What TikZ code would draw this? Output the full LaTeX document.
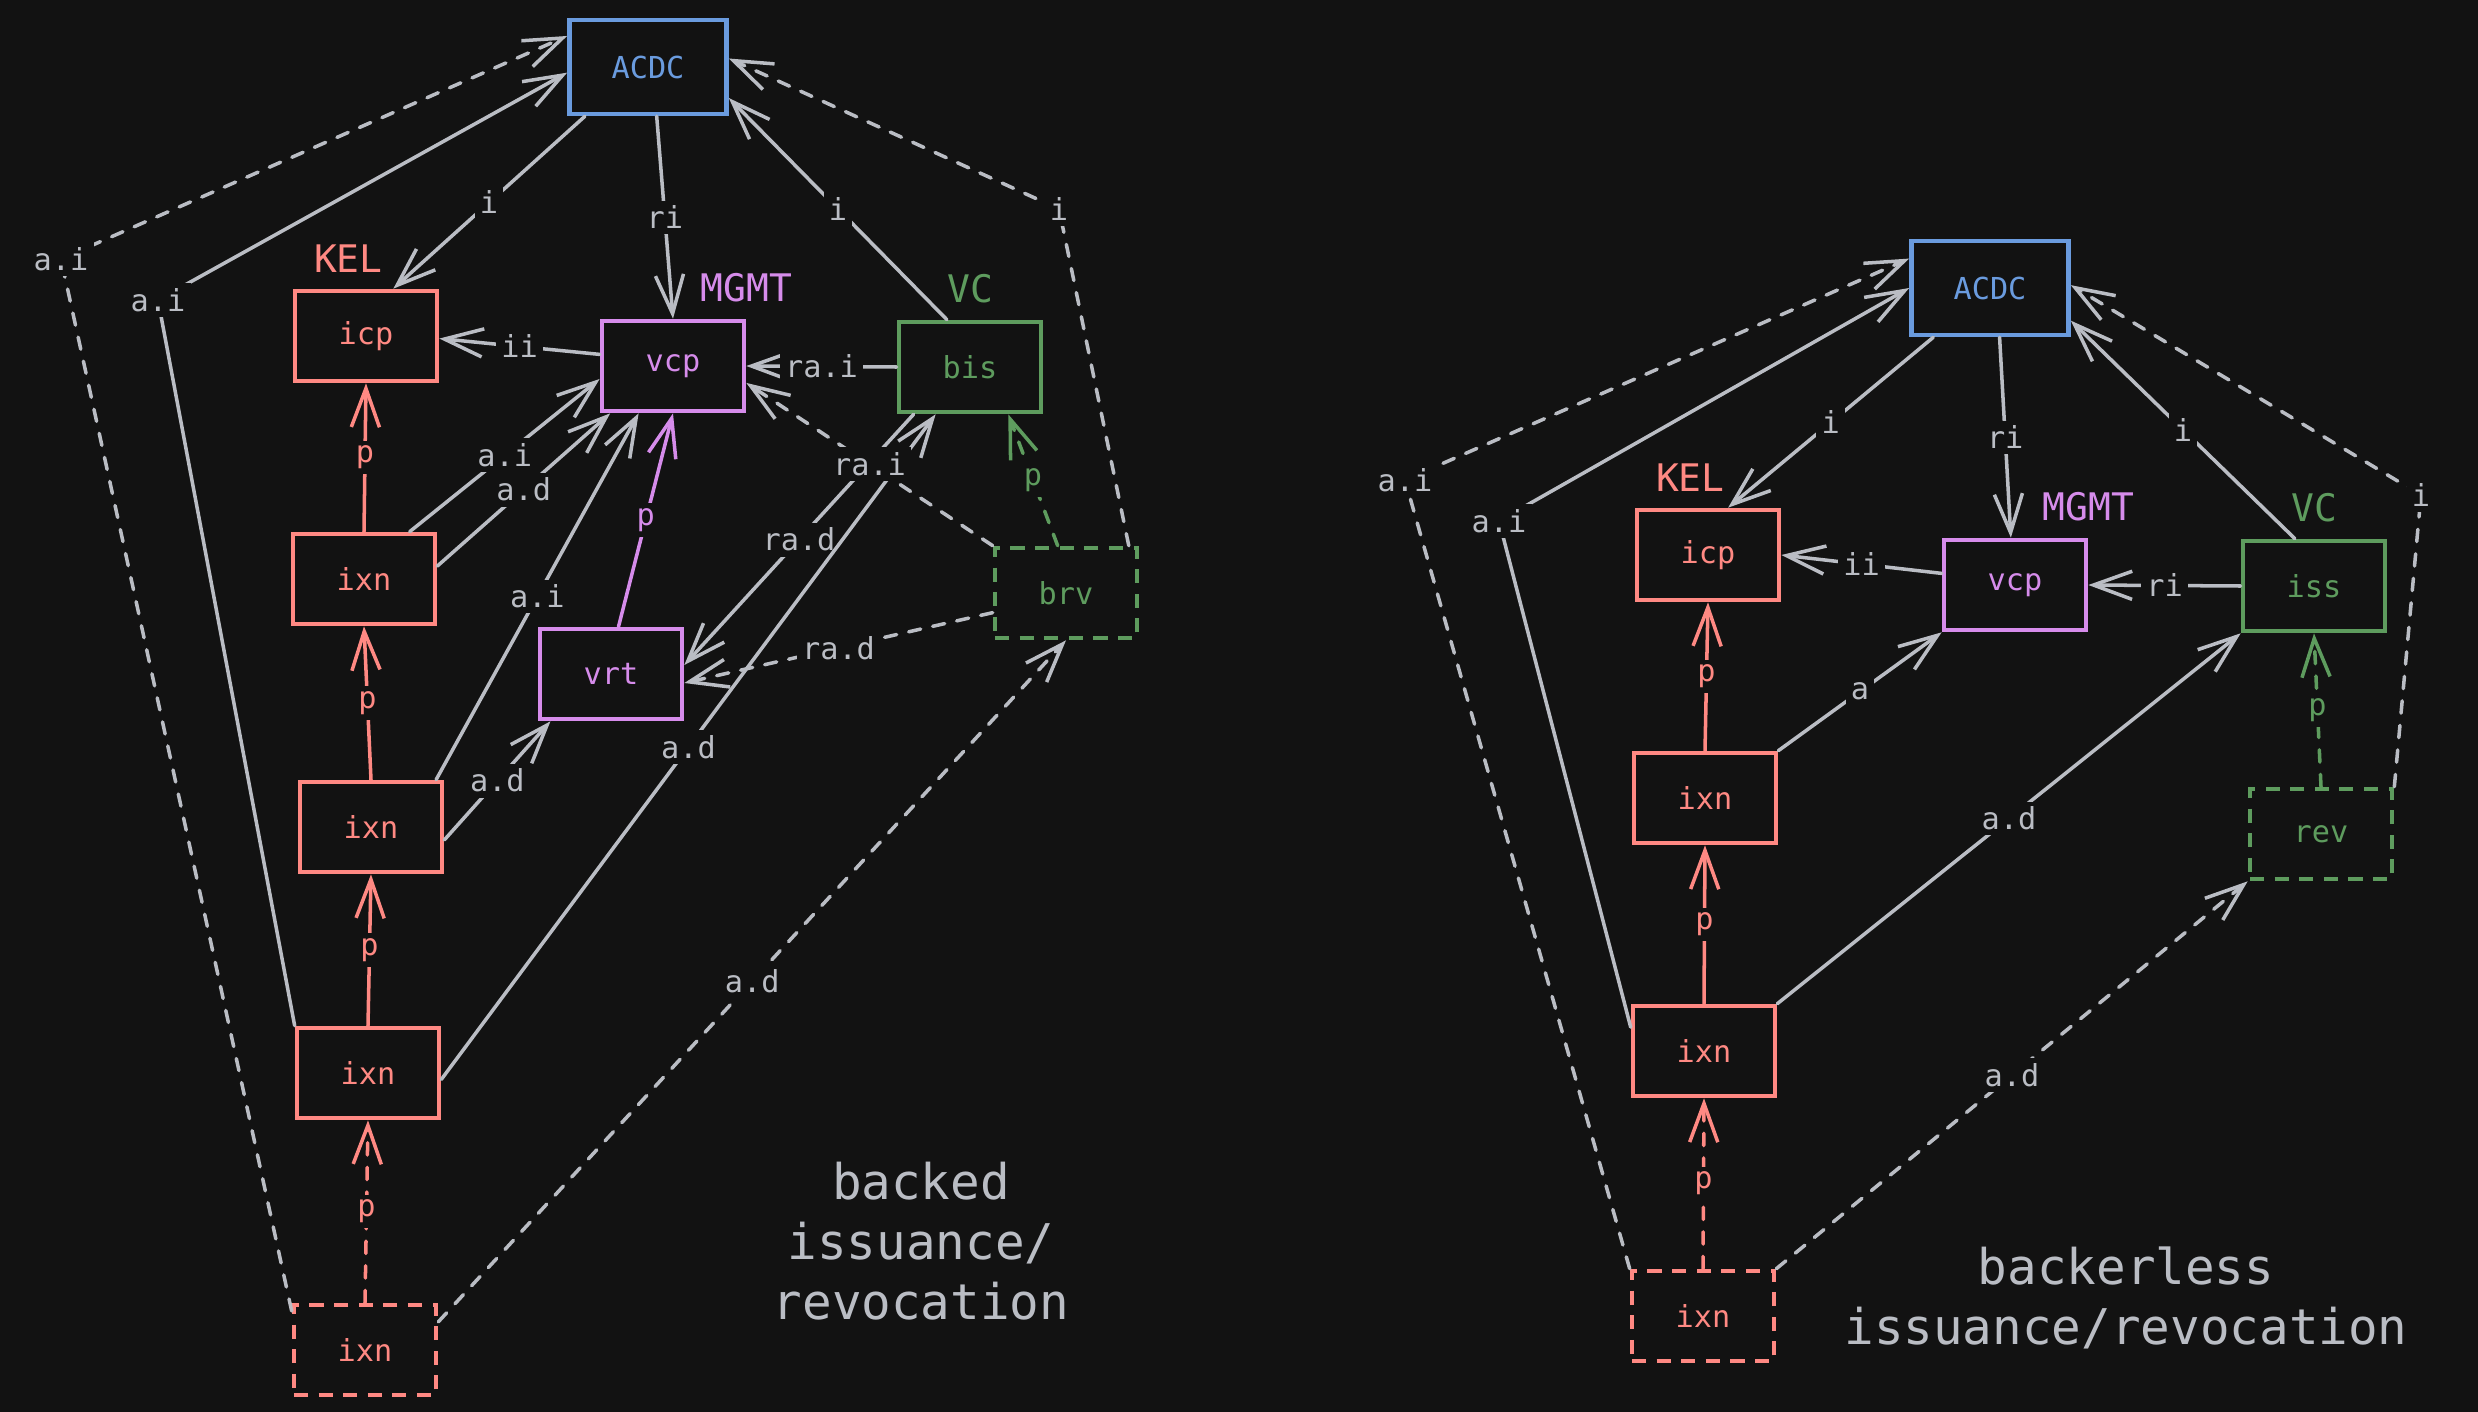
\documentclass[tikz,border=0pt]{standalone}
\usepackage{fontspec}
\setmainfont{DejaVu Sans Mono}
\usepackage{tikz}
\usetikzlibrary{arrows.meta}
\usetikzlibrary{positioning}
\definecolor{bgc}{HTML}{121212}
\definecolor{linegray}{HTML}{BABDC4}
\definecolor{acdcblue}{HTML}{6A9BDE}
\definecolor{kelred}{HTML}{FF8983}
\definecolor{mgmtpurple}{HTML}{D68CEB}
\definecolor{vcgreen}{HTML}{5E9C5E}
\tikzset{
  box/.style={
    rectangle,
    draw, line width=1.3pt,
    minimum width=1.42cm,
    minimum height=0.9cm,
    inner sep=2pt,
    text centered,
    font=\fontsize{8.6}{10}\selectfont,
  },
  kel/.style={box, draw=kelred, text=kelred},
  mgmt/.style={box, draw=mgmtpurple, text=mgmtpurple},
  vc/.style={box, draw=vcgreen, text=vcgreen},
  acdc/.style={box, draw=acdcblue, text=acdcblue, minimum width=1.57cm, minimum height=0.94cm},
  ghost/.style={dash pattern=on 4pt off 3pt},
  grouplbl/.style={inner sep=4.5pt, font=\fontsize{10.8}{13}\selectfont},
  link/.style={draw=linegray, line width=1pt, line cap=round},
  dlink/.style={link, dash pattern=on 3.5pt off 3.5pt},
  plink/.style={link, draw=kelred},
  lbl/.style={fill=bgc, text=linegray, inner sep=1.5pt, font=\fontsize{8.6}{10}\selectfont},
  plbl/.style={lbl, text=kelred},
  heading/.style={text=linegray, align=center, font=\fontsize{14}{17}\selectfont},
}

\begin{document}
\begin{tikzpicture}[x=0.01cm, y=-0.01cm, ->, >={Straight Barb[length=11pt,width=8pt]}]
  \fill[bgc, -] (0,0) rectangle (2478,1412);
  \useasboundingbox (0,0) rectangle (2478,1412);

  % backed
  \node[acdc] (acdcL) at (648,67) {ACDC};
  \node[kel] (icpL) at (366,336) {icp};
  \node[mgmt] (vcpL) at (673,366) {vcp};
  \node[vc] (bisL) at (970,367) {bis};
  \node[kel] (ixnLa) at (364,579) {ixn};
  \node[mgmt] (vrtL) at (611,674) {vrt};
  \node[vc, ghost] (brvL) at (1066,593) {brv};
  \node[kel] (ixnLb) at (371,827) {ixn};
  \node[kel] (ixnLc) at (368,1073) {ixn};
  \node[kel, ghost] (ixnLd) at (365,1350) {ixn};
  \node[grouplbl, text=kelred, above=0pt of icpL, xshift=-5pt] (kelL) {KEL};
  \node[grouplbl, text=mgmtpurple, above=0pt of vcpL.north east] (mgmtL) {MGMT};
  \node[grouplbl, text=vcgreen, above=0pt of bisL] (vcL) {VC};
  \node[heading] (backedTxt) at (921,1241) {backed\\issuance/\\revocation};

  \coordinate (bendLo) at (61,259);
  \coordinate (bendLi) at (158,300);
  \coordinate (bendLr) at (1059,209);

  \path (acdcL.218) edge[link] node[lbl] {i} (icpL.60)
        (acdcL.280) edge[link] node[lbl] {ri} (vcpL.north);
  \path (bisL.116) edge[link] node[lbl] {i} (acdcL.339)
        (bisL.west) edge[link] node[lbl] {ra.i} (vcpL.east)
        (bisL.220) edge[link] node[lbl] {ra.d} (vrtL.7);
  \path (vcpL.171) edge[link] node[lbl] {ii} (icpL.358);
  \path (ixnLa.46) edge[link] node[lbl] {a.i} (vcpL.190)
        (ixnLa.10) edge[link] node[lbl] {a.d} (vcpL.217);
  \path (ixnLb.36) edge[link] node[lbl] {a.i} (vcpL.234)
        (ixnLb.350) edge[link] node[lbl] {a.d} (vrtL.218);
  \path (ixnLc.355) edge[link] node[lbl] {a.d} (bisL.234);
  \path (ixnLd.21) edge[dlink] node[lbl] {a.d} (brvL.south);
  \path (vrtL.81) edge[link, draw=mgmtpurple] node[lbl, text=mgmtpurple] {p} (vcpL.south);
  \path (brvL.north west) edge[dlink] node[lbl] {ra.i} (vcpL.347)
        (brvL.195) edge[dlink] node[lbl] {ra.d} (vrtL.353)
        (brvL.100) edge[dlink, draw=vcgreen] node[lbl, text=vcgreen] {p} (bisL.309);
  \path (ixnLa.north) edge[plink] node[plbl] {p} (icpL.south)
        (ixnLb.north) edge[plink] node[plbl] {p} (ixnLa.south)
        (ixnLc.north) edge[plink] node[plbl] {p} (ixnLb.south)
        (ixnLd.north) edge[plink, dash pattern=on 3.5pt off 3.5pt] node[plbl] {p} (ixnLc.south);
  \draw[dlink] (ixnLd.152) -- (bendLo) node[lbl] {a.i} -- (acdcL.159);
  \draw[link] (ixnLc.north west) -- (bendLi) node[lbl] {a.i} -- (acdcL.184);
  \draw[dlink] (brvL.37) -- (bendLr) node[lbl] {i} -- (acdcL.6);

  % backerless
  \node[acdc] (acdcR) at (1990,288) {ACDC};
  \node[kel] (icpR) at (1708,555) {icp};
  \node[mgmt] (vcpR) at (2015,585) {vcp};
  \node[vc] (issR) at (2314,586) {iss};
  \node[kel] (ixnRa) at (1705,798) {ixn};
  \node[vc, ghost] (revR) at (2321,834) {rev};
  \node[kel] (ixnRb) at (1704,1051) {ixn};
  \node[kel, ghost] (ixnRc) at (1703,1316) {ixn};
  \node[grouplbl, text=kelred, above=0pt of icpR, xshift=-5pt] (kelR) {KEL};
  \node[grouplbl, text=mgmtpurple, above=0pt of vcpR.north east] (mgmtR) {MGMT};
  \node[grouplbl, text=vcgreen, above=0pt of issR] (vcR) {VC};
  \node[heading] (backerlessTxt) at (2126,1298) {backerless\\issuance/revocation};

  \coordinate (bendRo) at (1405,480);
  \coordinate (bendRi) at (1499,521);
  \coordinate (bendRr) at (2421,495);

  \path (acdcR.221) edge[link] node[lbl] {i} (icpR.67)
        (acdcR.281) edge[link] node[lbl] {ri} (vcpR.95);
  \path (issR.112) edge[link] node[lbl] {i} (acdcR.338)
        (issR.west) edge[link] node[lbl] {ri} (vcpR.east);
  \path (vcpR.171) edge[link] node[lbl] {ii} (icpR.east);
  \path (ixnRa.north east) edge[link] node[lbl] {a} (vcpR.south west);
  \path (ixnRb.north east) edge[link] node[lbl] {a.d} (issR.south west);
  \path (ixnRc.north east) edge[dlink] node[lbl] {a.d} (revR.south west);
  \path (revR.north) edge[dlink, draw=vcgreen] node[lbl, text=vcgreen] {p} (issR.south);
  \path (ixnRa.north) edge[plink] node[plbl] {p} (icpR.south)
        (ixnRb.north) edge[plink] node[plbl] {p} (ixnRa.south)
        (ixnRc.north) edge[plink, dash pattern=on 3.5pt off 3.5pt] node[plbl] {p} (ixnRb.south);
  \draw[dlink] (ixnRc.north west) -- (bendRo) node[lbl] {a.i} -- (acdcR.160);
  \draw[link] (ixnRb.162) -- (bendRi) node[lbl] {a.i} -- (acdcR.west);
  \draw[dlink] (revR.north east) -- (bendRr) node[lbl] {i} -- (acdcR.2);
\end{tikzpicture}
\end{document}
